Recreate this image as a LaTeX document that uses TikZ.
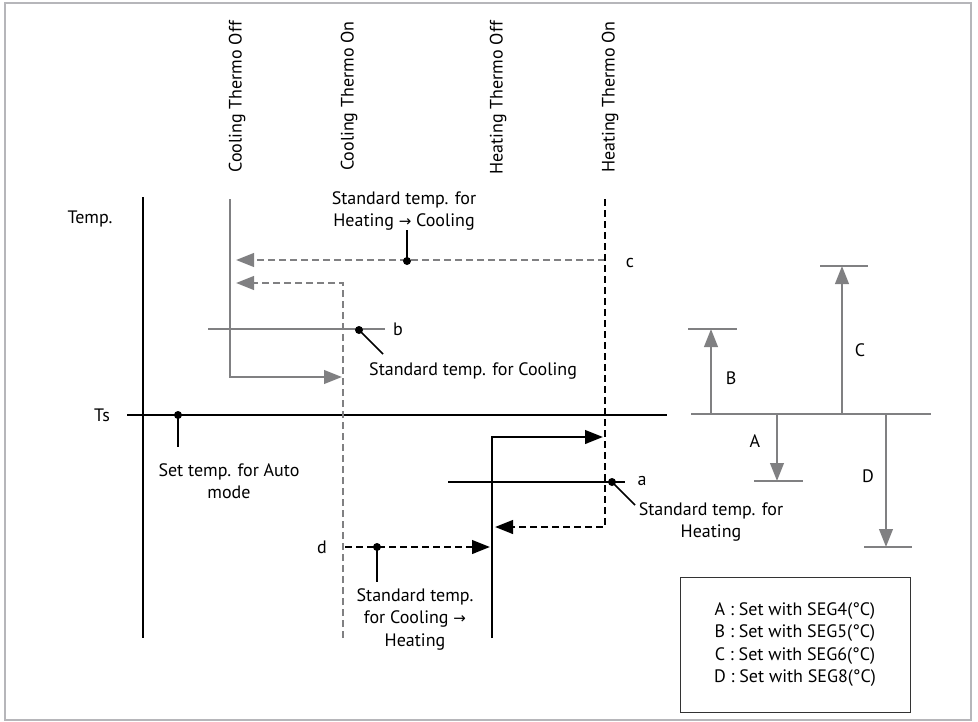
\documentclass[tikz,border=0pt]{standalone}
\usepackage{fontspec}
\setmainfont{PT Sans}
\newfontfamily\arrowfont{DejaVu Sans}
\usepackage{tikz}
\usetikzlibrary{arrows.meta}
\definecolor{lineGray}{RGB}{128,128,130}
\definecolor{frameGray}{RGB}{182,182,186}
\newcommand{\toarr}{{\arrowfont\fontsize{15}{15}\selectfont →}}

\begin{document}
\begin{tikzpicture}[
    x=1pt, y=-1pt,
    font=\fontsize{18}{22.5}\selectfont,
    lbl/.style={inner sep=0pt, align=center},
    vlbl/.style={rotate=90, anchor=east, inner sep=0pt},
    axis/.style={line width=2.8pt, draw=black},
    blackline/.style={line width=2.7pt, draw=black},
    grayline/.style={line width=2.6pt, draw=lineGray},
    thinline/.style={line width=1.2pt},
    dashline/.style={dash pattern=on 7pt off 4pt},
    tip/.style={-{Triangle[length=18pt, width=13.5pt]}},
    dotnode/.style={circle, fill=black, inner sep=0pt, minimum size=8pt},
    leader/.style={line width=1.6pt, draw=black},
    legend/.style={draw=black!80, line width=1pt, minimum width=230pt, minimum height=135pt, align=center, inner sep=0pt}
  ]
    \useasboundingbox (0,0) rectangle (978,721);
    \draw[frameGray, line width=2pt] (5,3) rectangle (971,720);

    % column titles
    \node[vlbl] (coolOff) at (237,21) {Cooling Thermo Off};
    \node[vlbl] (coolOn) at (349,21) {Cooling Thermo On};
    \node[vlbl] (heatOff) at (498,21) {Heating Thermo Off};
    \node[vlbl] (heatOn) at (610,21) {Heating Thermo On};

    % axes
    \coordinate (yTop) at (143,197);
    \coordinate (yBot) at (143,638);
    \coordinate (tsL) at (127,415);
    \coordinate (tsR) at (667,415);
    \draw[axis] (yTop) -- (yBot);
    \draw[axis] (tsL) -- (tsR);
    \node[lbl] (temp) at (90,219) {Temp.};
    \node[lbl] (ts) at (102,415) {Ts};

    \node[dotnode] (dSet) at (178,415) {};
    \coordinate (dSetEnd) at (178,447);
    \draw[leader] (dSet.center) -- (dSetEnd);
    \node[lbl] (setAuto) at (229,481) {Set temp. for Auto\\mode};

    % cooling side
    \coordinate (coolOffTop) at (230,199);
    \coordinate (coolOffBot) at (230,377);
    \coordinate (coolOnHit) at (342,377);
    \draw[grayline, tip] (coolOffTop) -- (coolOffBot) -- (coolOnHit);

    \coordinate (coolOnBot) at (343,638);
    \coordinate (coolOnTop) at (343,283);
    \coordinate (coolOffHit1) at (236,283);
    \draw[grayline, dashline, tip] (coolOnBot) -- (coolOnTop) -- (coolOffHit1);

    \coordinate (heatOnC) at (605,260);
    \coordinate (coolOffHit2) at (236,260);
    \draw[grayline, dashline, tip] (heatOnC) -- (coolOffHit2);

    % heating side
    \coordinate (heatOnTop) at (605,199);
    \coordinate (heatOnBot) at (605,527);
    \coordinate (heatOffHit1) at (495,527);
    \draw[blackline, dashline, tip] (heatOnTop) -- (heatOnBot) -- (heatOffHit1);

    \coordinate (heatOffBot) at (492,638);
    \coordinate (heatOffTop) at (492,437);
    \coordinate (heatOnHit) at (603,437);
    \draw[blackline, tip] (heatOffBot) -- (heatOffTop) -- (heatOnHit);

    \coordinate (coolOnD) at (345,547);
    \coordinate (heatOffHit2) at (490,547);
    \draw[blackline, dashline, tip] (coolOnD) -- (heatOffHit2);

    % point c
    \node[dotnode] (dC) at (407,261) {};
    \coordinate (dCEnd) at (407,230);
    \draw[leader] (dC.center) -- (dCEnd);
    \node[lbl] (stdHC) at (404,211) {Standard temp. for\\Heating \toarr{} Cooling};
    \node[lbl] (c) at (630,263) {c};

    % point b
    \draw[thinline, lineGray] (208,329) -- (385,329);
    \node[dotnode] (dB) at (359,330) {};
    \coordinate (dBEnd) at (383,354);
    \draw[leader] (dB.center) -- (dBEnd);
    \node[lbl] (b) at (398,329) {b};
    \node[lbl, anchor=west] (stdC) at (369,371) {Standard temp. for Cooling};

    % point a
    \draw[thinline, black] (448,482) -- (625,482);
    \node[dotnode] (dA) at (612,482) {};
    \coordinate (dAEnd) at (635,505);
    \draw[leader] (dA.center) -- (dAEnd);
    \node[lbl] (a) at (642,481) {a};
    \node[lbl] (stdH) at (711,522) {Standard temp. for\\Heating};

    % point d
    \node[dotnode] (dD) at (377,547) {};
    \coordinate (dDEnd) at (377,582);
    \draw[leader] (dD.center) -- (dDEnd);
    \node[lbl] (d) at (322,547) {d};
    \node[lbl] (stdCH) at (415,619) {Standard temp.\\for Cooling \toarr\\Heating};

    % offsets on the right
    \coordinate (baseL) at (691,414);
    \coordinate (baseR) at (931,414);
    \draw[grayline] (baseL) -- (baseR);

    \coordinate (bBase) at (711,414);
    \coordinate (bTop) at (711,329);
    \draw[grayline, tip] (bBase) -- (bTop);
    \draw[thinline, lineGray] (688,329) -- (737,329);
    \node[lbl] (labB) at (731,378) {B};

    \coordinate (cBase) at (842,414);
    \coordinate (cTop) at (842,266);
    \draw[grayline, tip] (cBase) -- (cTop);
    \draw[thinline, lineGray] (820,266) -- (868,266);
    \node[lbl] (labC) at (860,350) {C};

    \coordinate (aBase) at (777,414);
    \coordinate (aBot) at (777,481);
    \draw[grayline, tip] (aBase) -- (aBot);
    \draw[thinline, lineGray] (754,481) -- (803,481);
    \node[lbl] (labA) at (755,441) {A};

    \coordinate (dBase) at (886,414);
    \coordinate (dBot) at (886,547);
    \draw[grayline, tip] (dBase) -- (dBot);
    \draw[thinline, lineGray] (864,547) -- (912,547);
    \node[lbl] (labD) at (868,476) {D};

    % legend
    \node[legend] (leg) at (795,644.5) {A : Set with SEG4(°C)\\B : Set with SEG5(°C)\\C : Set with SEG6(°C)\\D : Set with SEG8(°C)};
  \end{tikzpicture}
\end{document}
